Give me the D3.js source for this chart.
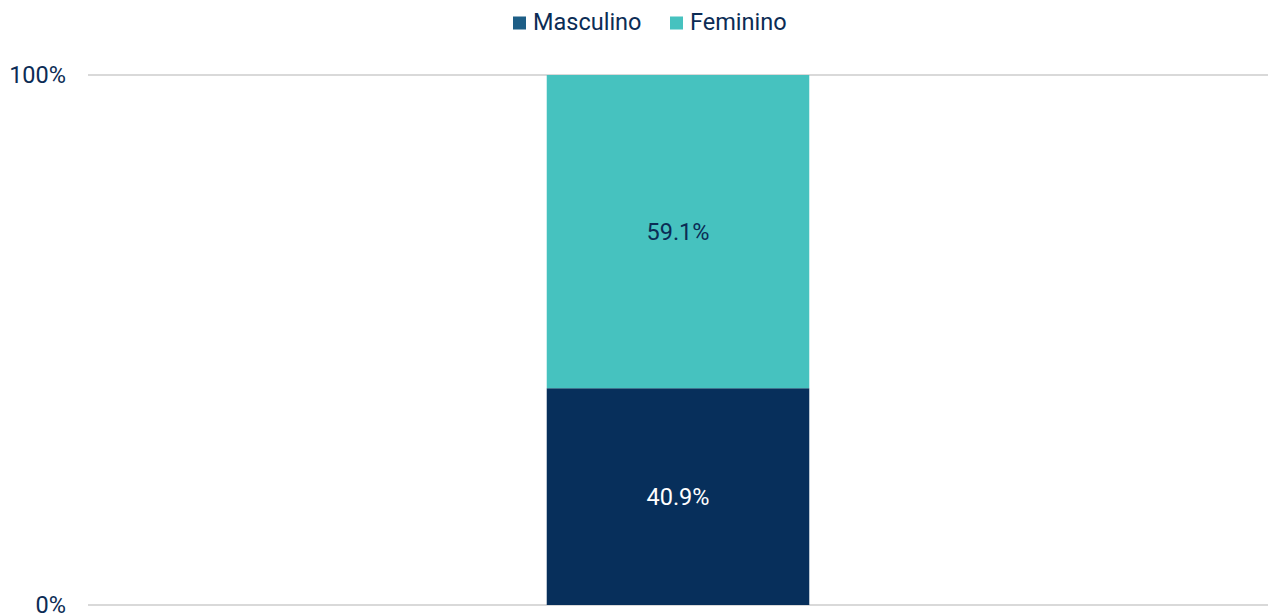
<!DOCTYPE html>
<html>
<head>
<meta charset="utf-8">
<script src="https://cdn.jsdelivr.net/npm/d3@7"></script>
<style>
  body { margin: 0; background: #fff; }
  svg { display: block; font-family: Roboto, sans-serif; }
</style>
</head>
<body>
<svg width="1268" height="615"></svg>
<script>
const categories = ['Total'];
const masculino = [40.9];
const feminino = [59.1];
const seriesNames = ['Masculino', 'Feminino'];
const tickValues = [0, 100];

const barColors = ['#072F5B', '#46C2BF'];
const legendColors = ['#1D5E86', '#46C2BF'];
const textColor = '#0B2C55';

const svg = d3.select('svg');
const plotLeft = 88, plotRight = 1268, plotTop = 75, plotBottom = 605;

const x = d3.scaleBand().domain(categories).range([plotLeft, plotRight]).padding(0.636);
const y = d3.scaleLinear().domain([0, 100]).range([plotBottom, plotTop]);

// grid + tick labels
svg.append('g')
  .selectAll('line')
  .data(tickValues)
  .join('line')
  .attr('x1', plotLeft).attr('x2', plotRight)
  .attr('y1', d => y(d)).attr('y2', d => y(d))
  .attr('stroke', '#d9d9d9').attr('stroke-width', 2);

svg.append('g')
  .selectAll('text')
  .data(tickValues)
  .join('text')
  .attr('x', 66)
  .attr('y', d => y(d))
  .attr('dy', '0.35em')
  .attr('text-anchor', 'end')
  .attr('font-size', 23.5)
  .attr('fill', textColor)
  .text(d => d + '%');

const rows = categories.map((c, i) => ({ cat: c, values: [masculino[i], feminino[i]] }));
const stacked = d3.stack().keys([0, 1]).value((d, k) => d.values[k])(rows);

stacked.forEach((layer, k) => {
  const g = svg.append('g');
  g.selectAll('rect')
    .data(layer)
    .join('rect')
    .attr('x', d => x(d.data.cat))
    .attr('width', x.bandwidth())
    .attr('y', d => y(d[1]))
    .attr('height', d => y(d[0]) - y(d[1]))
    .attr('fill', barColors[k]);
  g.selectAll('text')
    .data(layer)
    .join('text')
    .attr('x', d => x(d.data.cat) + x.bandwidth() / 2)
    .attr('y', d => y((d[0] + d[1]) / 2))
    .attr('dy', '0.35em')
    .attr('text-anchor', 'middle')
    .attr('font-size', 23.5)
    .attr('fill', k === 0 ? '#ffffff' : textColor)
    .text(d => d3.format('.1f')(d[1] - d[0]) + '%');
});

// legend
const legend = svg.append('g');
const legendX = [513, 670];
seriesNames.forEach((name, i) => {
  legend.append('rect')
    .attr('x', legendX[i]).attr('y', 16.5)
    .attr('width', 13).attr('height', 13)
    .attr('fill', legendColors[i]);
  legend.append('text')
    .attr('x', legendX[i] + 20).attr('y', 29.5)
    .attr('font-size', 23.5)
    .attr('fill', textColor)
    .text(name);
});
</script>
</body>
</html>
